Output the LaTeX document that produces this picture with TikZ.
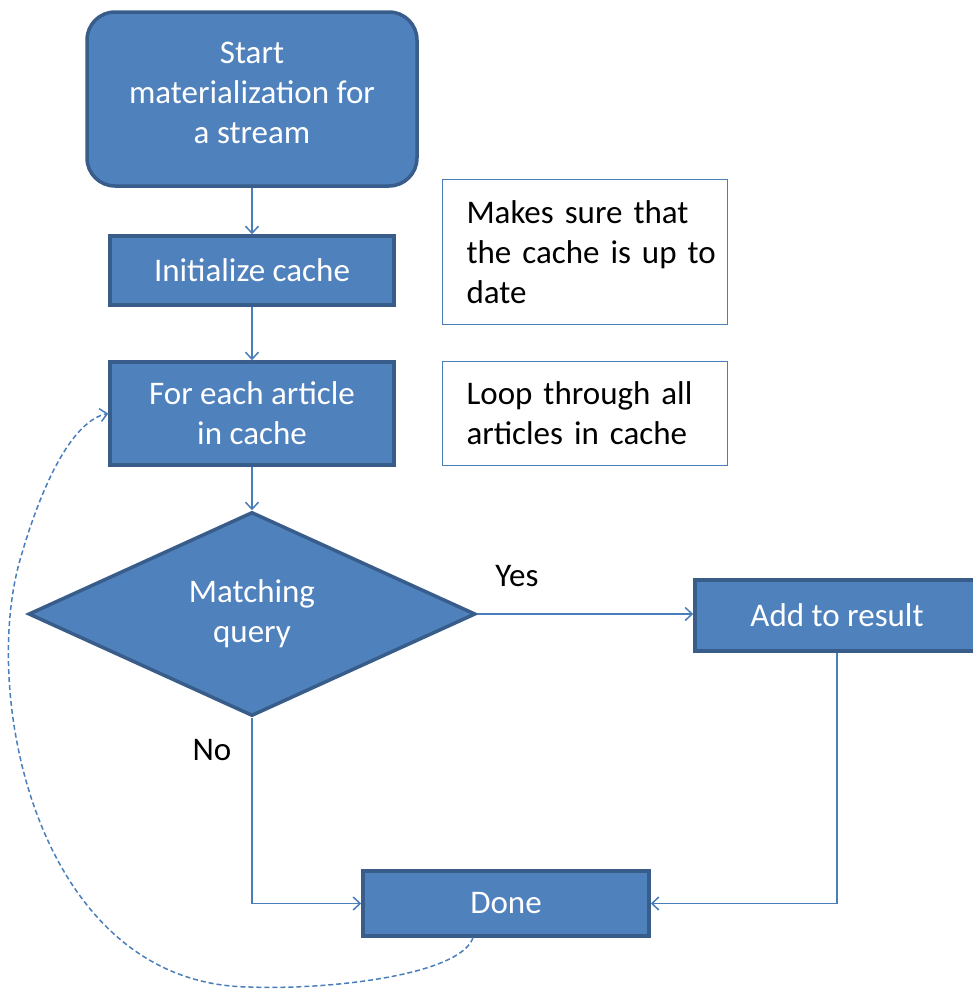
\documentclass[tikz,border=0pt]{standalone}
\usepackage{fontspec}
\setmainfont{Carlito}
\usetikzlibrary{shapes.geometric,arrows.meta}
\definecolor{boxfill}{HTML}{4F81BD}
\definecolor{boxline}{HTML}{385D8A}
\definecolor{wire}{HTML}{4A7EBB}
\begin{document}
\begin{tikzpicture}[x=1pt,y=-1pt,
  every node/.style={font=\fontsize{33}{40}\selectfont},
  procbox/.style={draw=boxline, fill=boxfill, line width=3.5pt, text=white,
    align=center, inner sep=0pt},
  notebox/.style={draw=wire, line width=1pt, fill=white, align=left,
    inner xsep=24pt, inner ysep=0pt, text width=237pt, anchor=north west},
  flow/.style={draw=wire, line width=1.5pt, -{Straight Barb[length=7pt,width=13pt]}},
  loopback/.style={draw=wire, line width=1.5pt, dash pattern=on 5pt off 3pt,
    -{Straight Barb[length=7pt,width=13pt]}}
]
\useasboundingbox (0,0) rectangle (973,989);
\clip (0,0) rectangle (973,989);

% process steps
\node[procbox, rounded corners=28pt, minimum width=330pt, minimum height=174pt]
  (start) at (252,99) {Start\\materialization for\\a stream\\[-28pt]};
\node[procbox, minimum width=284pt, minimum height=69pt]
  (init) at (252,270.5) {Initialize cache};
\node[procbox, minimum width=284pt, minimum height=103pt]
  (foreach) at (252,413.5) {For each article\\in cache};
\node[procbox, diamond, minimum width=447pt, minimum height=204pt]
  (match) at (252,614) {Matching\\query};
\node[procbox, minimum width=284pt, minimum height=71pt]
  (add) at (837,615.5) {Add to result};
\node[procbox, minimum width=286pt, minimum height=65pt]
  (done) at (506,903.5) {Done};

% side notes
\node[notebox, minimum height=145pt] (note1) at (442,179)
  {\mbox{Makes sure that}\\\mbox{the cache is up to}\\\mbox{date}};
\node[notebox, minimum height=104pt] (note2) at (442,361)
  {\mbox{Loop through all}\\\mbox{articles in cache}};

% branch labels
\node (yes) at (517,576) {Yes};
\node (no) at (212,750) {No};

% connectors
\draw[flow] (start.south) -- (init.north);
\draw[flow] (init.south) -- (foreach.north);
\draw[flow] (foreach.south) -- (match.north);
\draw[flow] (match.east) -- (match.east -| add.west);
\draw[flow] (match.south) |- (done.west);
\draw[flow] (add.south) |- (done.east);

% loop back to the next article
\draw[loopback] ([xshift=-33pt]done.south)
  .. controls (460,975) and (330,990) .. (250,987)
  .. controls (40,985) and (-20,700) .. (20,560)
  .. controls (44,476) and (75,420) .. (foreach.west);
\end{tikzpicture}
\end{document}
